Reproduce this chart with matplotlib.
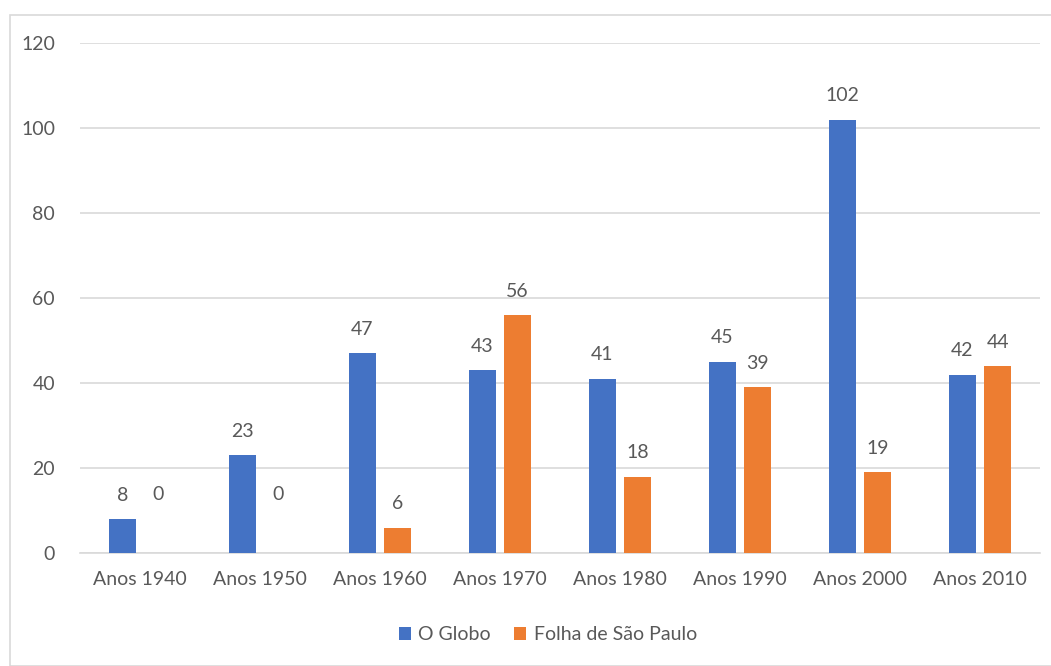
import matplotlib
matplotlib.use("Agg")
import matplotlib.pyplot as plt
import numpy as np
from matplotlib.patches import Rectangle

categories = ["Anos 1940", "Anos 1950", "Anos 1960", "Anos 1970", "Anos 1980", "Anos 1990", "Anos 2000", "Anos 2010"]
o_globo = [8, 23, 47, 43, 41, 45, 102, 42]
folha = [0, 0, 6, 56, 18, 39, 19, 44]
series_names = ["O Globo", "Folha de São Paulo"]
yticks = [0, 20, 40, 60, 80, 100, 120]

plt.rcParams['font.family'] = ['Lato', 'DejaVu Sans']
txt = '#595959'
fs = 14

fig = plt.figure(figsize=(10.51, 6.66), dpi=100)
ax = fig.add_axes([80/1051, 1-553/666, (1040-80)/1051, (553-43)/666])

x = np.arange(len(categories))
w = 0.225
gap = 0.035
b1 = ax.bar(x - w/2 - gap, o_globo, w, color='#4472C4', label=series_names[0], zorder=3)
b2 = ax.bar(x + w/2 + gap, folha, w, color='#ED7D31', label=series_names[1], zorder=3)

for bars, vals in ((b1, o_globo), (b2, folha)):
    for r, v in zip(bars, vals):
        off = 11 if v > 0 else 36
        ax.annotate(str(v), (r.get_x() + r.get_width()/2, v), xytext=(0, off),
                    textcoords='offset points', ha='center', va='bottom',
                    fontsize=fs, color=txt)

ax.set_xlim(-0.5, len(categories) - 0.5)
ax.set_ylim(0, 120)
ax.set_yticks(yticks)
ax.set_xticks(x)
ax.set_xticklabels(categories)
ax.tick_params(axis='both', length=0, labelsize=fs, labelcolor=txt)
ax.tick_params(axis='y', pad=18)
ax.tick_params(axis='x', pad=13)
ax.grid(axis='y', color='#D9D9D9', linewidth=1.2, zorder=0)
for s in ['top', 'right', 'left']:
    ax.spines[s].set_visible(False)
ax.spines['bottom'].set_color('#D9D9D9')
ax.spines['bottom'].set_linewidth(1.2)

leg = fig.legend(handles=[b1, b2], loc='center', bbox_to_anchor=(548/1051, 1-635/666),
                 ncol=2, frameon=False, fontsize=fs, handlelength=0.6, handleheight=0.6,
                 handletextpad=0.4, columnspacing=1.2)
for t in leg.get_texts():
    t.set_color(txt)

fig.patches.append(Rectangle((10/1051, 0), 1.0, 1-15/666, transform=fig.transFigure,
                             fill=False, edgecolor='#D9D9D9', linewidth=1.2))

fig.savefig("out.png", dpi=100)
